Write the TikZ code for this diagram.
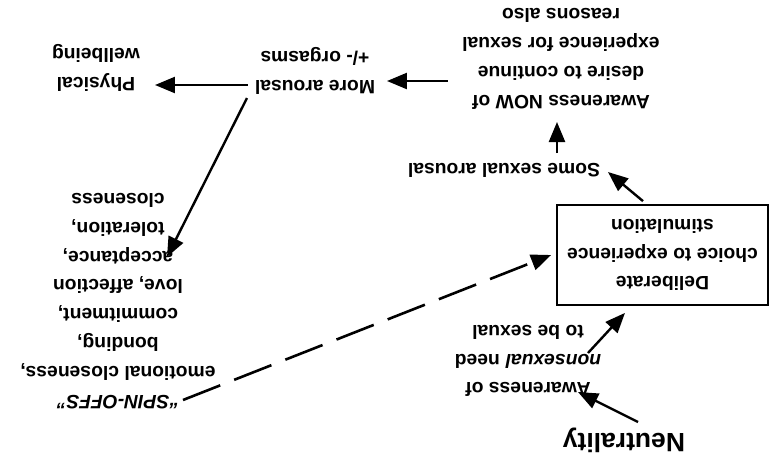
\documentclass[tikz,border=0pt]{standalone}
\usepackage{fontspec}
\setmainfont{Liberation Sans}
\usetikzlibrary{arrows.meta,calc}
\begin{document}
\begin{tikzpicture}[x=1pt,y=1pt,
  lbl/.style={font=\bfseries\fontsize{19.3}{28.8}\selectfont, align=center, inner sep=2pt},
  bigtxt/.style={font=\bfseries\fontsize{26.5}{30}\selectfont, inner sep=2pt},
  boxnode/.style={lbl, draw, line width=1.8pt, minimum width=211pt, minimum height=100pt},
  arr/.style={line width=2.4pt, -{Triangle[length=20pt,width=16pt]}},
  dasharr/.style={arr, line width=2.6pt, dash pattern=on 40pt off 15pt}]
\begin{scope}[rotate=180, transform shape]
\path[use as bounding box] (0,0) rectangle (770,459);
\node[bigtxt] (neut) at (146,440) {Neutrality};
\node[lbl] (aw1) at (242,361) {Awareness of\\\textit{nonsexual} need\\to be sexual};
\node[boxnode] (box) at (107.5,255) {Deliberate\\choice to experience\\stimulation};
\node[lbl] (some) at (266,170) {Some sexual arousal};
\node[lbl] (now) at (209,59) {Awareness NOW of\\desire to continue\\experience for sexual\\reasons also};
\node[lbl] (more) at (455,71) {More arousal\\+/- orgasms};
\node[lbl] (phys) at (674,68) {Physical\\wellbeing};
\node[lbl] (spin) at (652,301) {\textit{“SPIN-OFFS”}\\emotional closeness,\\bonding,\\commitment,\\love, affection\\acceptance,\\toleration,\\closeness};
\draw[arr] ($(neut)+(-14,-18)$) -- ($(aw1)+(-50,31)$);
\draw[arr] ($(aw1)+(-60,-8)$) -- ($(box.north)+(37.5,7)$);
\draw[arr] ($(box.south)+(19.5,-3)$) -- ($(some)+(-104,2)$);
\draw[arr] ($(some)+(-53,-17)$) -- ($(now)+(4,63)$);
\draw[arr] ($(now)+(113,22)$) -- ($(more)+(-72,10)$);
\draw[arr] ($(more)+(67,14)$) -- ($(phys)+(-59,17)$);
\draw[arr] ($(more)+(68,27)$) -- ($(spin)+(-49,-44)$);
\draw[dasharr] ($(spin)+(-65,99)$) -- ($(box.east)+(5,0)$);
\end{scope}
\end{tikzpicture}
\end{document}
